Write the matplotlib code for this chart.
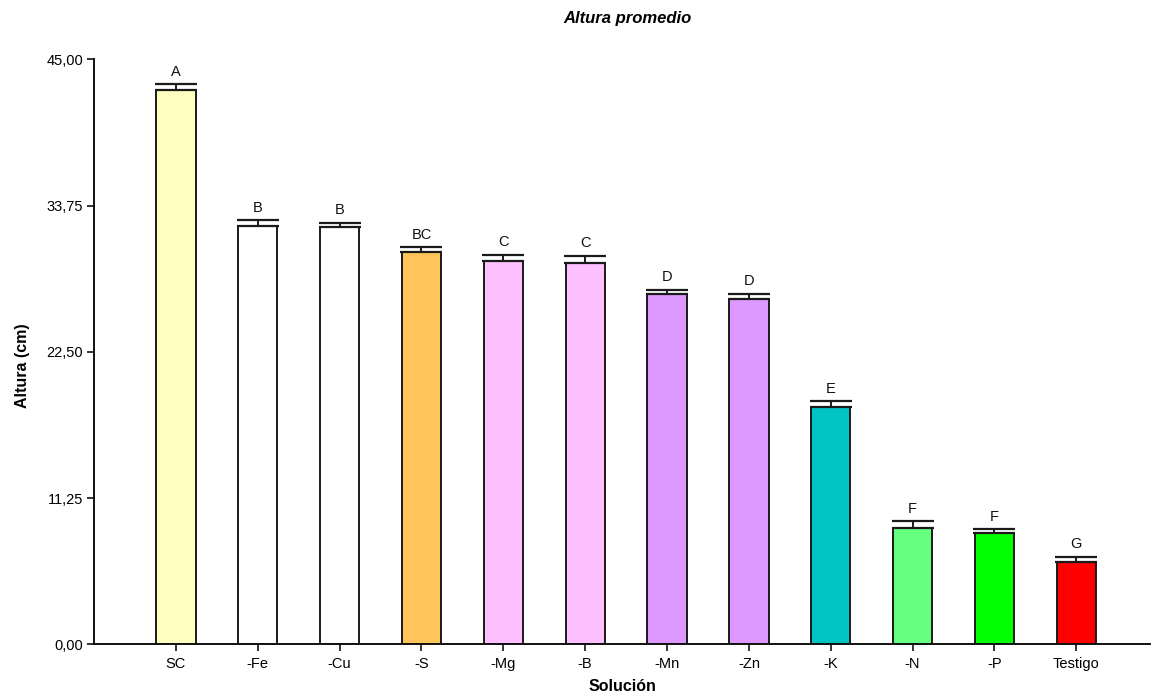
import matplotlib
matplotlib.use("Agg")
import matplotlib.pyplot as plt
import numpy as np

categories = ["SC", "-Fe", "-Cu", "-S", "-Mg", "-B", "-Mn", "-Zn", "-K", "-N", "-P", "Testigo"]
means = [42.66, 32.15, 32.07, 30.15, 29.49, 29.36, 26.95, 26.59, 18.26, 8.96, 8.53, 6.30]
errors = [0.43, 0.46, 0.34, 0.39, 0.46, 0.51, 0.31, 0.36, 0.44, 0.49, 0.33, 0.43]
letters = ["A", "B", "B", "BC", "C", "C", "D", "D", "E", "F", "F", "G"]
colors = ["#FFFFC0", "#FFFFFF", "#FFFFFF", "#FFC55A", "#FFC0FF", "#FFC0FF",
          "#DD99FF", "#DD99FF", "#00C4C4", "#66FF80", "#00FF00", "#FF0000"]
yticks = [0.0, 11.25, 22.5, 33.75, 45.0]

plt.rcParams['font.family'] = ['Liberation Sans', 'DejaVu Sans']

fig = plt.figure(figsize=(11.57, 6.99), dpi=100)
ax = fig.add_axes([94/1157, 1 - 644.3/699, (1150 - 94)/1157, (644.3 - 59.3)/699])

x = np.arange(1, len(categories) + 1)
ax.bar(x, means, width=0.48, color=colors, edgecolor="#1a1a1a", linewidth=1.4, zorder=2)
ax.errorbar(x, means, yerr=[np.zeros(len(means)), errors], fmt="none", ecolor="#1a1a1a",
            elinewidth=1.4, capsize=15, capthick=1.6, zorder=3)
for xi, m, e, l in zip(x, means, errors, letters):
    ax.annotate(l, (xi, m + e), xytext=(0, 4), textcoords="offset points",
                ha="center", va="bottom", fontsize=10.5, color="#111111")

ax.set_xlim(0, 12.9)
ax.set_ylim(0, 45)
ax.set_xticks(x)
ax.set_xticklabels(categories, fontsize=10.5)
ax.set_yticks(yticks)
ax.set_yticklabels([f"{v:.2f}".replace(".", ",") for v in yticks], fontsize=10.5)
ax.spines["top"].set_visible(False)
ax.spines["right"].set_visible(False)
for s in ("left", "bottom"):
    ax.spines[s].set_linewidth(1.4)
    ax.spines[s].set_color("#111111")
ax.tick_params(axis="both", direction="out", length=5, width=1.2, color="#111111", pad=3)
ax.tick_params(axis="x", pad=4)

ax.set_xlabel("Solución", fontsize=11.5, fontweight="bold", labelpad=6)
ax.set_ylabel("Altura (cm)", fontsize=11.5, fontweight="bold")
ax.yaxis.set_label_coords(-0.061, 0.477)
fig.text(627/1157, 1 - 19/699, "Altura promedio", ha="center", va="center",
         fontsize=12, fontweight="bold", fontstyle="italic")

fig.savefig("out.png", dpi=100)
